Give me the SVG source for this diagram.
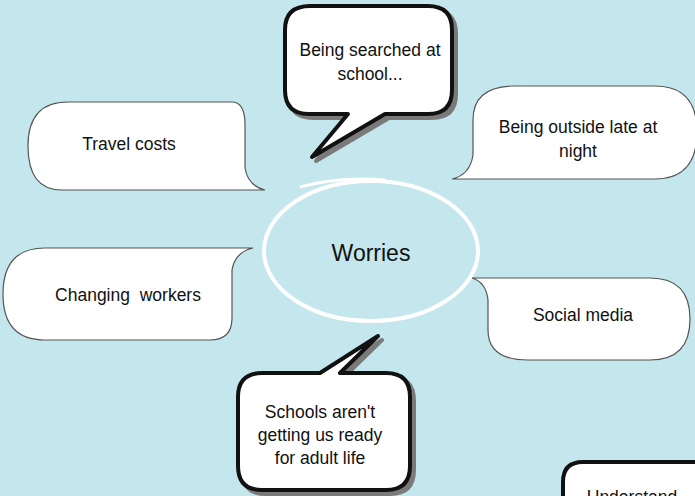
<svg xmlns="http://www.w3.org/2000/svg" width="695" height="496" viewBox="0 0 695 496">
<style>
.thin{fill:#fff;stroke:#555;stroke-width:1.2}
.thick{fill:#fff;stroke:#111;stroke-width:4;stroke-linejoin:round}
.shadow{fill:#7a7a7a;stroke:#7a7a7a;stroke-width:4;stroke-linejoin:round}
text{font-family:"Liberation Sans",Arial,sans-serif;font-size:17.5px;fill:#111;text-anchor:middle;white-space:pre}
</style>
<rect width="695" height="496" fill="#c4e6ed"/>
<g id="center">
<ellipse cx="371" cy="251" rx="107" ry="70" fill="none" stroke="#fff" stroke-width="4"/>
<path d="M300 187 Q340 176 385 180" fill="none" stroke="#fff" stroke-width="3"/>
<text x="371" y="261" style="font-size:23px">Worries</text>
</g>
<g id="searched">
<path class="shadow" transform="translate(4,4)" d="M310 6 H428 Q452 6 452 30 V90 Q452 114 428 114 H385 L312 157 L348 114 H309 Q285 114 285 90 V30 Q285 6 310 6 Z"/>
<path class="thick" d="M310 6 H428 Q452 6 452 30 V90 Q452 114 428 114 H385 L312 157 L348 114 H309 Q285 114 285 90 V30 Q285 6 310 6 Z"/>
<text x="370" y="56">Being searched at</text>
<text x="370" y="80">school...</text>
</g>
<g id="travel">
<path class="thin" d="M68 102 H232 Q245 102 245 125 V168 Q248 186 265 190 H62 Q28 190 28 146 Q28 102 68 102 Z"/>
<text x="129" y="150">Travel costs</text>
</g>
<g id="outside">
<path class="thin" d="M515 86 H655 Q697 86 697 132 Q697 179 655 179 H452 Q470 175 473 155 V120 Q473 86 515 86 Z"/>
<text x="578" y="133">Being outside late at</text>
<text x="578" y="157">night</text>
</g>
<g id="changing">
<path class="thin" d="M45 248 H253 Q235 252 232 270 V318 Q232 340 210 340 H45 Q3 340 3 294 Q3 248 45 248 Z"/>
<text x="128" y="301">Changing  workers</text>
</g>
<g id="social">
<path class="thin" d="M472 278 H650 Q690 278 690 319 Q690 360 650 360 H528 Q488 360 488 330 V300 Q486 282 472 278 Z"/>
<text x="583" y="321">Social media</text>
</g>
<g id="schools">
<path class="shadow" transform="translate(4,4)" d="M262 373 H320 L378 336 L340 373 H386 Q410 373 410 397 V466 Q410 490 386 490 H262 Q238 490 238 466 V397 Q238 373 262 373 Z"/>
<path class="thick" d="M262 373 H320 L378 336 L340 373 H386 Q410 373 410 397 V466 Q410 490 386 490 H262 Q238 490 238 466 V397 Q238 373 262 373 Z"/>
<text x="320" y="418">Schools aren't</text>
<text x="320" y="441">getting us ready</text>
<text x="320" y="464">for adult life</text>
</g>
<g id="understand">
<path class="shadow" transform="translate(4,4)" d="M563 510 V482 Q563 462 583 462 H710"/>
<path class="thick" d="M563 510 V482 Q563 462 583 462 H710 V510 Z"/>
<text x="632" y="503">Understand</text>
</g>
<g id="connectors"></g>
</svg>
